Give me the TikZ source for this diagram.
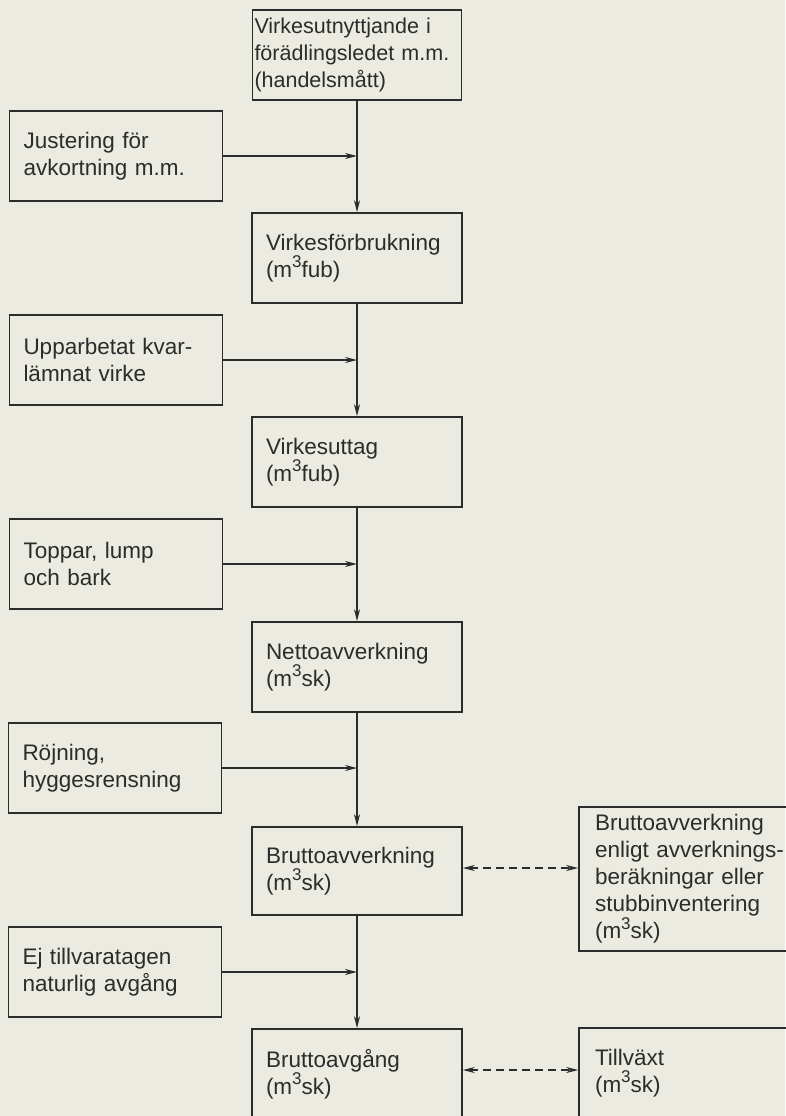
\documentclass[tikz,border=0pt]{standalone}
\usepackage{fontspec}
\setmainfont{Liberation Sans}
\usetikzlibrary{arrows.meta}
\definecolor{paper}{HTML}{ECEBE2}
\definecolor{ink}{HTML}{2C2C2C}
\newcommand{\cubeunit}[1]{(m\raisebox{.42em}{\fontsize{17}{17}\selectfont 3}#1)}
\tikzset{
% Boxes of the chart: main column, inputs on the left, checks on the right
flow box/.style={rectangle,draw=ink,line width=1.6pt,text=ink,align=left,
  inner xsep=14pt,inner ysep=0pt,minimum height=90pt,text width=182pt,
  font=\fontsize{22.5}{27}\selectfont},
side box/.style={flow box,text width=185pt},
check box/.style={flow box,inner xsep=16pt,text width=200pt},
% Connectors
flow arrow/.style={draw=ink,line width=1.5pt,-{Stealth[length=12pt,width=6pt]}},
link arrow/.style={draw=ink,line width=1.5pt,dash pattern=on 8pt off 5pt,
  {Stealth[length=12pt,width=6pt]}-{Stealth[length=12pt,width=6pt]}}
}

\begin{document}
\begin{tikzpicture}[x=1pt,y=-1pt]
\useasboundingbox[fill=paper] (0,0) rectangle (785,1116);

% main column
\node[flow box, inner xsep=2pt, text width=205pt, font=\fontsize{21.5}{27}\selectfont]
  (utnyttjande) at (357,55) {Virkesutnyttjande i\\förädlingsledet m.m.\\(handelsmått)};
\node[flow box] (forbrukning) at (357,258) {Virkesförbrukning\\\cubeunit{fub}};
\node[flow box] (uttag) at (357,462) {Virkesuttag\\\cubeunit{fub}};
\node[flow box] (netto) at (357,667) {Nettoavverkning\\\cubeunit{sk}};
\node[flow box, minimum height=88pt] (brutto) at (357,871) {Bruttoavverkning\\\cubeunit{sk}};
\node[flow box] (avgang) at (357,1074) {Bruttoavgång\\\cubeunit{sk}};

% inputs
\node[side box] (justering) at (116,156) {Justering för\\avkortning m.m.};
\node[side box] (upparbetat) at (116,360) {Upparbetat kvar-\\lämnat virke};
\node[side box] (toppar) at (116,564) {Toppar, lump\\och bark};
\node[side box] (rojning) at (115,768) {Röjning,\\hyggesrensning};
\node[side box] (ejtillvara) at (115,972) {Ej tillvaratagen\\naturlig avgång};

% checks
\node[check box, minimum height=144pt] (berakning) at (695,879)
  {Bruttoavverkning\\enligt avverknings-\\beräkningar eller\\stubbinventering\\\cubeunit{sk}};
\node[check box] (tillvaxt) at (695,1073) {Tillväxt\\\cubeunit{sk}};

\draw[flow arrow] (utnyttjande) -- (forbrukning);
\draw[flow arrow] (forbrukning) -- (uttag);
\draw[flow arrow] (uttag) -- (netto);
\draw[flow arrow] (netto) -- (brutto);
\draw[flow arrow] (brutto) -- (avgang);

\draw[flow arrow] (justering.east) -- (justering.east -| utnyttjande.south);
\draw[flow arrow] (upparbetat.east) -- (upparbetat.east -| utnyttjande.south);
\draw[flow arrow] (toppar.east) -- (toppar.east -| utnyttjande.south);
\draw[flow arrow] (rojning.east) -- (rojning.east -| utnyttjande.south);
\draw[flow arrow] (ejtillvara.east) -- (ejtillvara.east -| utnyttjande.south);

\draw[link arrow] ([yshift=3pt]brutto.east) -- ([yshift=3pt]brutto.east -| berakning.west);
\draw[link arrow] ([yshift=4pt]avgang.east) -- ([yshift=4pt]avgang.east -| tillvaxt.west);
\end{tikzpicture}
\end{document}
